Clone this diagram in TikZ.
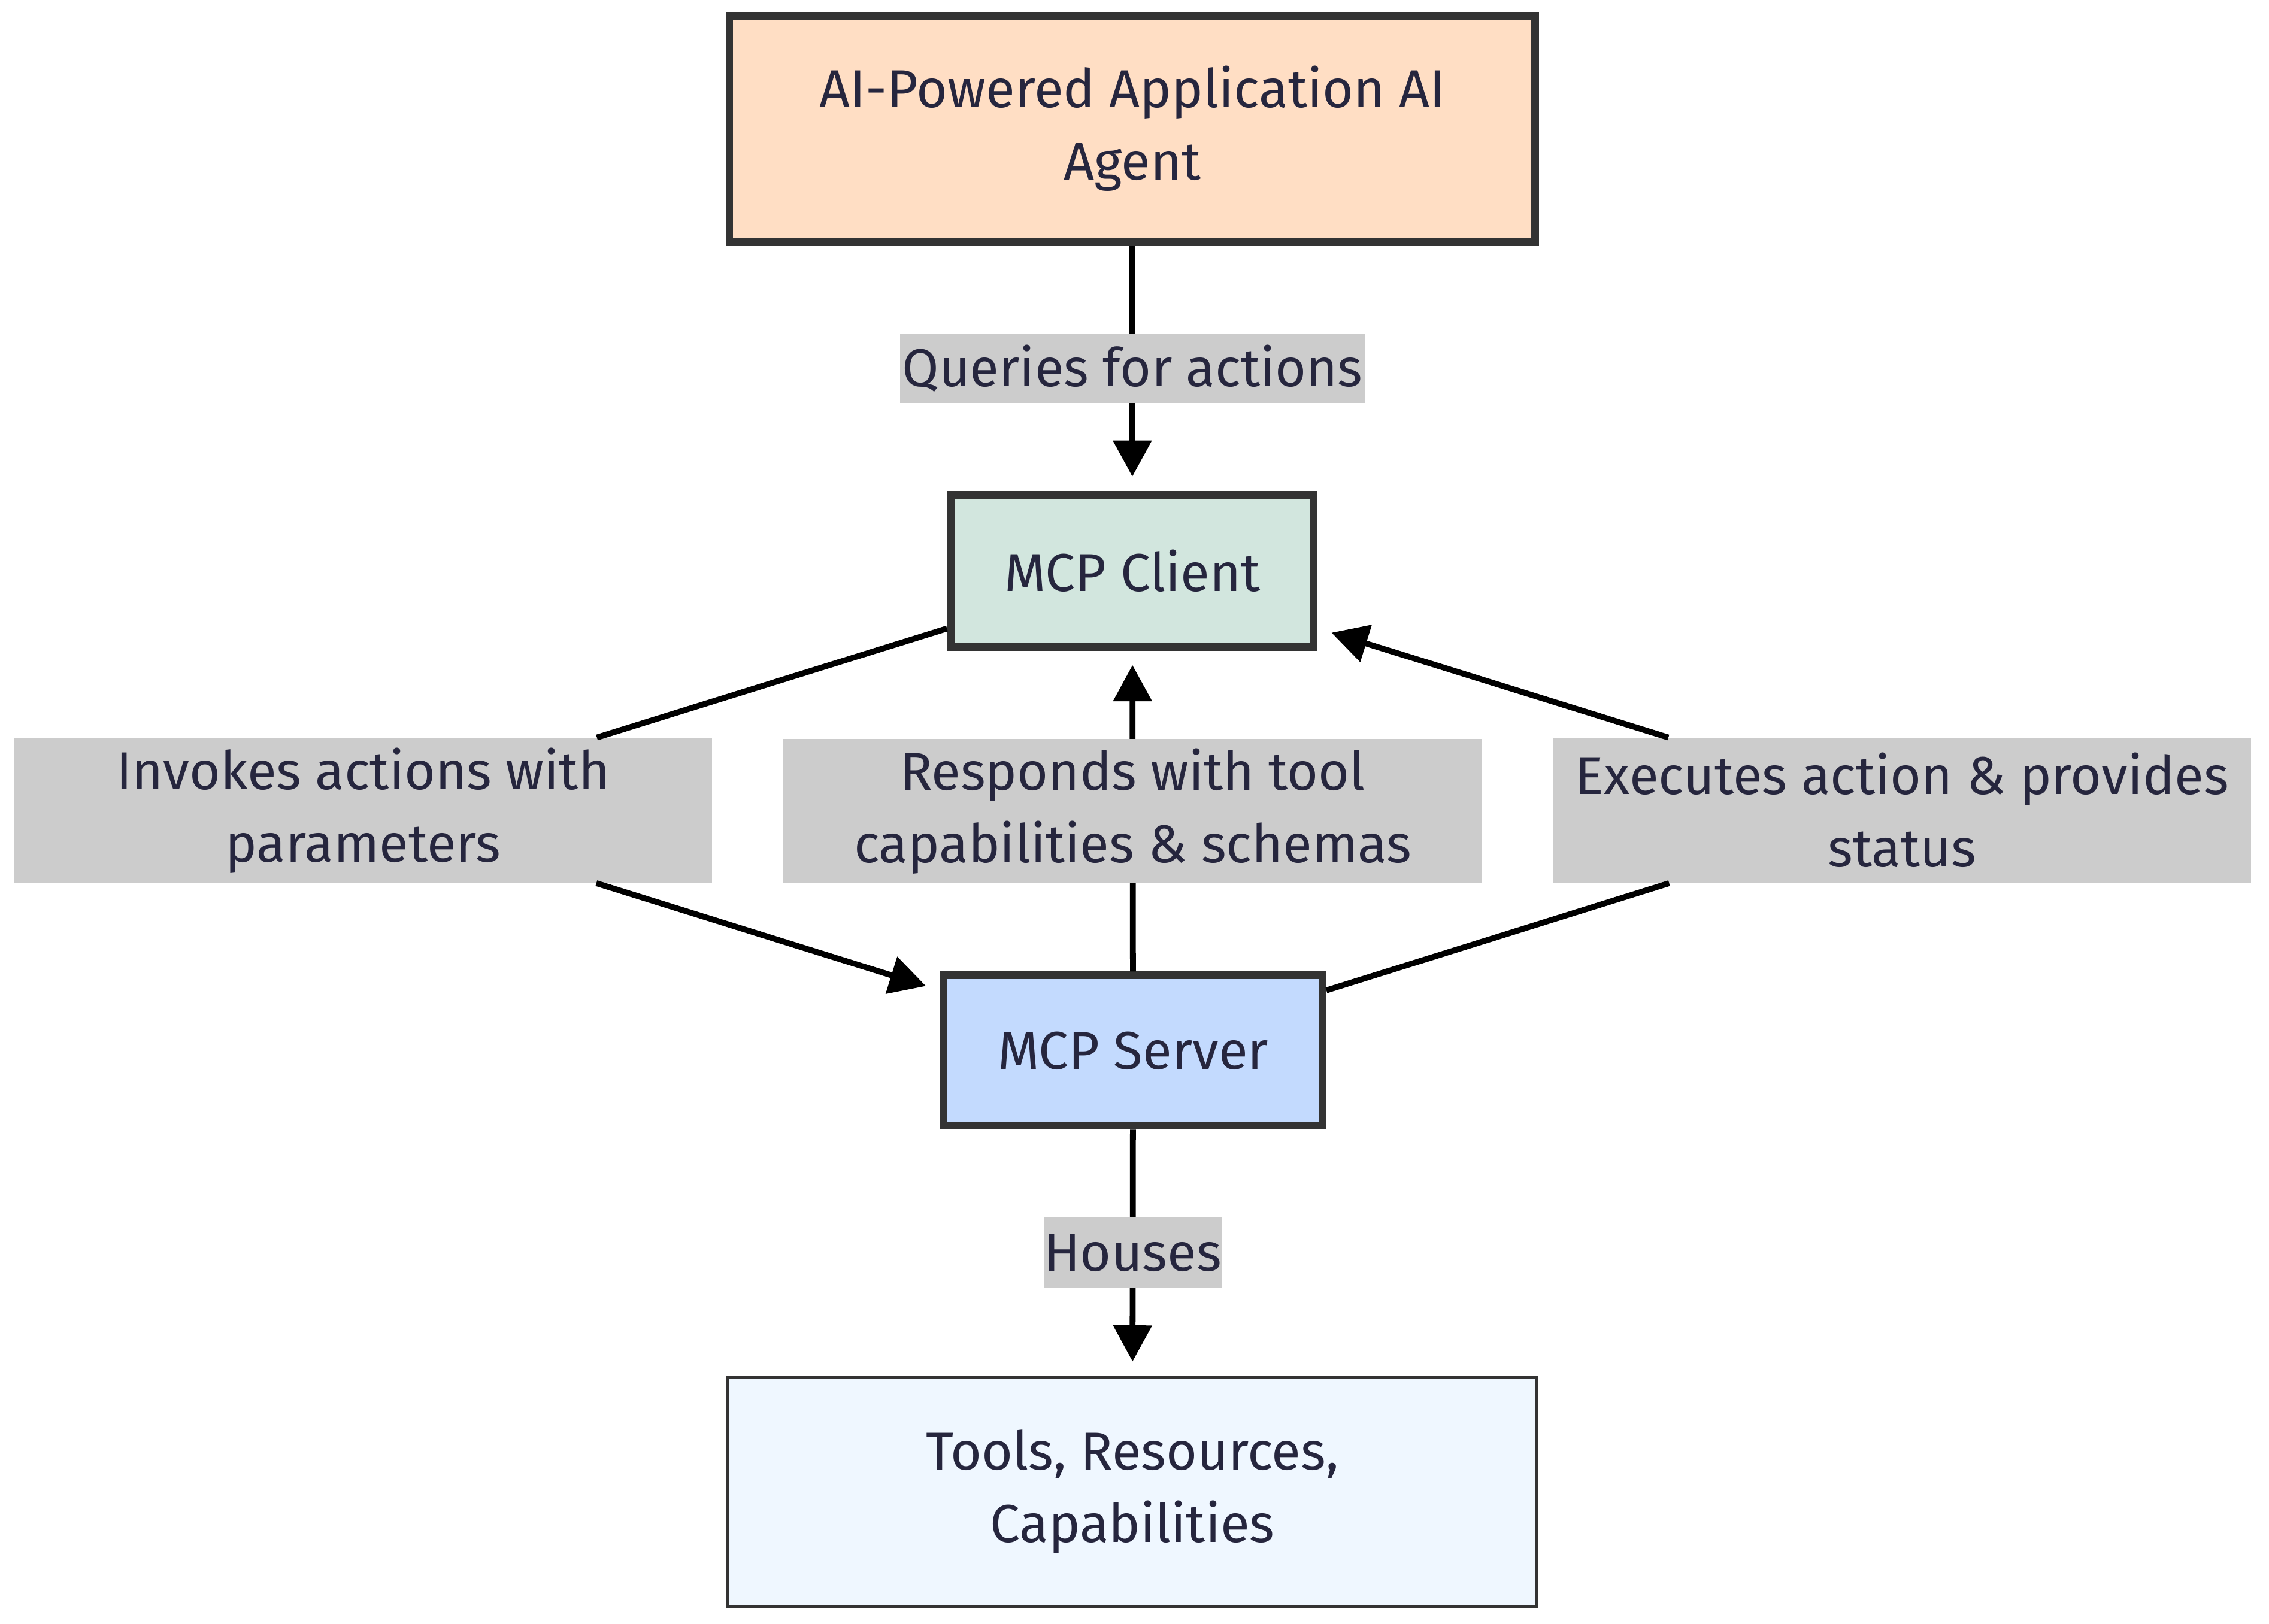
\documentclass[tikz,border=0pt]{standalone}
\usepackage{fontspec}
\setmainfont{Fira Sans}
\usetikzlibrary{arrows.meta, positioning}

\definecolor{agentfill}{HTML}{FFDEC4}
\definecolor{clientfill}{HTML}{D2E6DE}
\definecolor{serverfill}{HTML}{C3DAFE}
\definecolor{toolsfill}{HTML}{EFF7FF}
\definecolor{boxline}{HTML}{333333}
\definecolor{lblfill}{HTML}{CCCCCC}
\definecolor{textcol}{HTML}{26263E}

\begin{document}
\begin{tikzpicture}[
    x=0.02cm, y=-0.02cm,
    font=\fontsize{21}{28.5}\selectfont,
    box/.style={draw=boxline, line width=3pt, align=center, text=textcol, inner sep=0pt},
    lbl/.style={fill=lblfill, align=center, text=textcol, inner sep=0pt, minimum height=2cm, minimum width=9.64cm},
    line/.style={line width=2.3pt},
    arrow/.style={line width=2.3pt, -{Triangle[length=0.5cm, width=0.52cm]}, shorten >=0.2cm}
]
    \useasboundingbox (0,0) rectangle (1568,1122);

    \node[box, fill=agentfill, minimum width=11.14cm, minimum height=3.12cm] (agent) at (782.5,89) {AI-Powered Application AI\\Agent};
    \node[box, fill=clientfill, minimum width=5.02cm, minimum height=2.1cm] (client) at (782.5,394.5) {MCP Client};
    \node[box, fill=serverfill, minimum width=5.24cm, minimum height=2.08cm] (server) at (783,726) {MCP Server};
    \node[box, fill=toolsfill, line width=1.3pt, minimum width=11.18cm, minimum height=3.16cm] (tools) at (782.5,1031) {Tools, Resources,\\Capabilities};

    % labels on the slanted edges
    \node[lbl] (invokes) at (251,560) {Invokes actions with\\parameters};
    \node[lbl] (executes) at (1314.5,560) {Executes action \& provides\\status};

    \draw[arrow] (agent) -- node[lbl, minimum width=6.42cm, minimum height=0.96cm] {Queries for actions} (client);
    \draw[line] (client) -- (invokes);
    \draw[arrow] (invokes) -- (server);
    \draw[arrow] (server) -- node[lbl, minimum width=9.66cm] {Responds with tool\\capabilities \& schemas} (client);
    \draw[line] (server) -- (executes);
    \draw[arrow] (executes) -- (client);
    \draw[arrow] (server) -- node[lbl, minimum width=2.4cm, minimum height=0.98cm] {Houses} (tools);
\end{tikzpicture}
\end{document}
